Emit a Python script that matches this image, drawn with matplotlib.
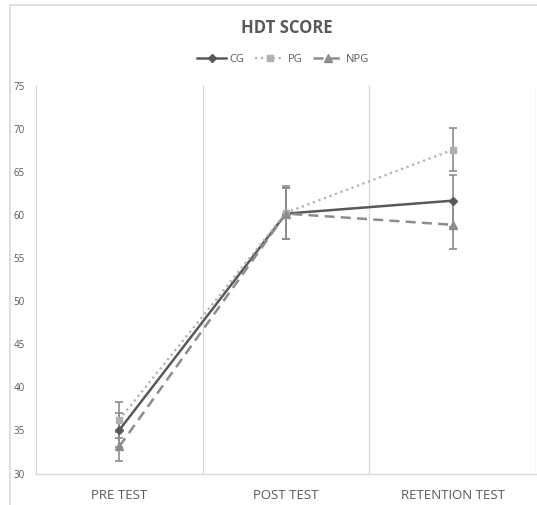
import matplotlib

matplotlib.use("Agg")

import matplotlib.pyplot as plt
from matplotlib.lines import Line2D
from matplotlib.patches import Rectangle

plt.rcParams["font.family"] = ["Open Sans", "DejaVu Sans"]

categories = ["PRE TEST", "POST TEST", "RETENTION TEST"]
cg = [35.1, 60.2, 61.7]
pg = [36.3, 60.3, 67.6]
npg = [33.2, 60.2, 58.9]
cg_err = [2.0, 3.0, 3.0]
pg_err = [2.1, 3.1, 2.5]
npg_err = [1.7, 3.0, 2.8]
y_ticks = [30, 35, 40, 45, 50, 55, 60, 65, 70, 75]

W, H = 537, 506
fig = plt.figure(figsize=(W / 100, H / 100), dpi=100)
ax = fig.add_axes([36 / W, 1 - 475 / H, 500 / W, 388 / H])

# outer chart border (only top and left visible)
fig.patches.append(Rectangle((10 / W, -0.1), 1.2, 1 - 6 / H + 0.1,
                             transform=fig.transFigure, fill=False,
                             edgecolor="#d9d9d9", linewidth=1.2))

x = list(range(len(categories)))
series = [
    ("CG", cg, cg_err, "#595959", "-", "D", 4, 1.8),
    ("PG", pg, pg_err, "#b0b0b0", ":", "s", 5, 1.6),
    ("NPG", npg, npg_err, "#8c8c8c", (0, (4, 2.5)), "^", 6, 1.8),
]

for name, vals, errs, col, ls, mk, ms, lw in series:
    ax.plot(x, vals, color=col, linestyle=ls, linewidth=lw, zorder=3)
    ax.errorbar(x, vals, yerr=errs, fmt="none", ecolor="#8c8c8c",
                elinewidth=1.2, capsize=3, capthick=1.2, zorder=2)
    ax.plot(x, vals, linestyle="none", marker=mk, markersize=ms,
            color=col, zorder=4)

ax.set_xlim(-0.5, 2.5)
ax.set_ylim(30, 75)
ax.set_yticks(y_ticks)
ax.set_yticklabels([str(t) for t in y_ticks], fontsize=7, color="#595959")
ax.set_xticks(x)
ax.set_xticklabels(categories, fontsize=9.5, color="#595959")
ax.tick_params(axis="both", length=0)
ax.tick_params(axis="y", pad=8)
ax.tick_params(axis="x", pad=10)
for lab in ax.get_yticklabels():
    lab.set_y(lab.get_position()[1])
    lab.set_verticalalignment("center")

for b in [0.5, 1.5, 2.5]:
    ax.axvline(b, color="#d9d9d9", linewidth=1.0, zorder=1)

for s in ["top", "right"]:
    ax.spines[s].set_visible(False)
for s in ["left", "bottom"]:
    ax.spines[s].set_color("#d9d9d9")
    ax.spines[s].set_linewidth(1.0)

fig.text(287 / W, 1 - 28 / H, "HDT SCORE", ha="center", va="center",
         fontsize=12, fontweight="bold", color="#595959")

handles = [
    Line2D([], [], color=c, linestyle=ls, linewidth=lw, marker=mk,
           markersize=ms)
    for _, _, _, c, ls, mk, ms, lw in series
]
fig.legend(handles, [s[0] for s in series], loc="center",
           bbox_to_anchor=(283 / W, 1 - 60 / H), ncol=3, frameon=False,
           fontsize=8, handlelength=2.6, columnspacing=1.0,
           handletextpad=0.3, labelcolor="#595959")

fig.savefig("out.png", dpi=100)
